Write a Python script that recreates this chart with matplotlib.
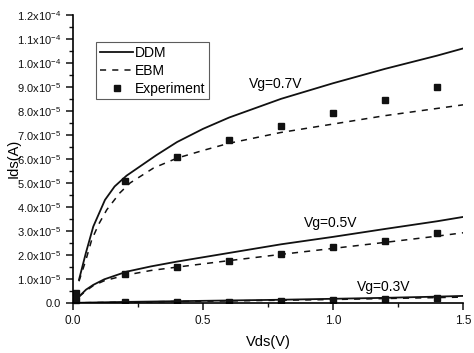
import matplotlib
matplotlib.use('Agg')
import matplotlib.pyplot as plt
import matplotlib.ticker as mticker
import numpy as np

plt.rcParams['font.family'] = ['Liberation Sans', 'DejaVu Sans']
plt.rcParams['mathtext.fontset'] = 'custom'
plt.rcParams['mathtext.rm'] = 'Liberation Sans'

# DDM model curves (Vds in V, Ids in units of 1e-5 A)
ddm_x_07 = [0.023, 0.05, 0.078, 0.123, 0.16, 0.206, 0.32, 0.4, 0.5, 0.6, 0.8, 1.0, 1.2, 1.4, 1.5]
ddm_y_07 = [0.96, 2.1, 3.18, 4.29, 4.85, 5.3, 6.15, 6.7, 7.25, 7.72, 8.5, 9.15, 9.75, 10.3, 10.6]
ddm_x_05 = [0.023, 0.05, 0.078, 0.12, 0.206, 0.3, 0.4, 0.6, 0.8, 1.0, 1.2, 1.4, 1.5]
ddm_y_05 = [0.26, 0.55, 0.75, 0.98, 1.3, 1.52, 1.72, 2.08, 2.44, 2.75, 3.08, 3.4, 3.58]
ddm_x_03 = [0.0, 0.2, 0.4, 0.6, 0.8, 1.0, 1.2, 1.4, 1.5]
ddm_y_03 = [0.0, 0.04, 0.07, 0.1, 0.13, 0.17, 0.21, 0.26, 0.29]

# EBM model curves
ebm_x_07 = [0.023, 0.05, 0.072, 0.1, 0.13, 0.18, 0.22, 0.31, 0.4, 0.5, 0.6, 0.8, 1.0, 1.2, 1.4, 1.5]
ebm_y_07 = [0.9, 1.8, 2.63, 3.3, 3.88, 4.58, 5.0, 5.62, 6.03, 6.35, 6.65, 7.1, 7.45, 7.8, 8.1, 8.25]
ebm_x_05 = [0.023, 0.05, 0.078, 0.12, 0.2, 0.3, 0.4, 0.6, 0.8, 1.0, 1.2, 1.4, 1.5]
ebm_y_05 = [0.26, 0.5, 0.72, 0.92, 1.15, 1.35, 1.49, 1.76, 2.02, 2.27, 2.52, 2.78, 2.92]
ebm_x_03 = [0.0, 0.2, 0.4, 0.6, 0.8, 1.0, 1.2, 1.4, 1.5]
ebm_y_03 = [0.0, 0.03, 0.06, 0.08, 0.11, 0.14, 0.18, 0.22, 0.24]

# Experimental points
exp_x = [0.2, 0.4, 0.6, 0.8, 1.0, 1.2, 1.4]
exp_y_07 = [5.08, 6.08, 6.79, 7.38, 7.92, 8.46, 9.0]
exp_y_05 = [1.19, 1.5, 1.75, 2.04, 2.33, 2.58, 2.92]
exp_y_03 = [0.05, 0.05, 0.05, 0.08, 0.1, 0.15, 0.2]
exp_x0 = [0.01, 0.01]
exp_y0 = [0.4, 0.1]

scale = 1e-5
fig = plt.figure(figsize=(4.74, 3.53), dpi=100)
ax = fig.add_axes([0.154, 0.142, 0.823, 0.816])

col = '#111111'
ax.plot(ddm_x_07, np.array(ddm_y_07) * scale, '-', color=col, lw=1.3, label='DDM')
ax.plot(ddm_x_05, np.array(ddm_y_05) * scale, '-', color=col, lw=1.3)
ax.plot(ddm_x_03, np.array(ddm_y_03) * scale, '-', color=col, lw=1.3)
ax.plot(ebm_x_07, np.array(ebm_y_07) * scale, '--', color=col, lw=1.1, dashes=(4, 4), label='EBM')
ax.plot(ebm_x_05, np.array(ebm_y_05) * scale, '--', color=col, lw=1.1, dashes=(4, 4))
ax.plot(ebm_x_03, np.array(ebm_y_03) * scale, '--', color=col, lw=1.1, dashes=(4, 4))
ax.plot(exp_x, np.array(exp_y_07) * scale, 's', color=col, ms=4.5, label='Experiment')
ax.plot(exp_x, np.array(exp_y_05) * scale, 's', color=col, ms=4.5)
ax.plot(exp_x, np.array(exp_y_03) * scale, 's', color=col, ms=4.5)
ax.plot(exp_x0, np.array(exp_y0) * scale, 's', color=col, ms=4.5, clip_on=False)

ax.set_xlim(0, 1.5)
ax.set_ylim(0, 1.2e-4)


def yfmt(v, _):
    if abs(v) < 1e-12:
        return '0.0'
    exp = int(np.floor(np.log10(abs(v)) + 1e-9))
    mant = v / 10 ** exp
    return r'%.1fx10$^{%d}$' % (mant, exp)


ax.yaxis.set_major_locator(mticker.MultipleLocator(1e-5))
ax.yaxis.set_minor_locator(mticker.MultipleLocator(0.5e-5))
ax.yaxis.set_major_formatter(mticker.FuncFormatter(yfmt))
ax.xaxis.set_major_locator(mticker.MultipleLocator(0.5))
ax.xaxis.set_minor_locator(mticker.MultipleLocator(0.25))
ax.xaxis.set_major_formatter(mticker.FormatStrFormatter('%.1f'))

for s in ('top', 'right'):
    ax.spines[s].set_visible(False)
for s in ('left', 'bottom'):
    ax.spines[s].set_linewidth(1.2)
ax.tick_params(which='major', direction='out', length=5, width=1.1, labelsize=8.5, colors=col)
ax.tick_params(axis='y', which='major', labelsize=8)
ax.tick_params(which='minor', direction='out', length=3, width=1.0, colors=col)

ax.set_xlabel('Vds(V)', fontsize=10.5, labelpad=6)
ax.set_ylabel('Ids(A)', fontsize=10.5)
ax.yaxis.set_label_coords(-0.135, 0.5)

ax.text(0.78, 9.1e-5, 'Vg=0.7V', fontsize=10, ha='center', va='center')
ax.text(0.99, 3.33e-5, 'Vg=0.5V', fontsize=10, ha='center', va='center')
ax.text(1.196, 0.67e-5, 'Vg=0.3V', fontsize=10, ha='center', va='center')

leg = ax.legend(loc='upper left', bbox_to_anchor=(0.06, 0.905), fontsize=10,
                frameon=True, fancybox=False, handlelength=2.4, borderpad=0.25,
                labelspacing=0.3, handletextpad=0.15, borderaxespad=0)
leg.get_frame().set_edgecolor('#333333')
leg.get_frame().set_linewidth(0.8)

fig.savefig('out.png', dpi=100)
